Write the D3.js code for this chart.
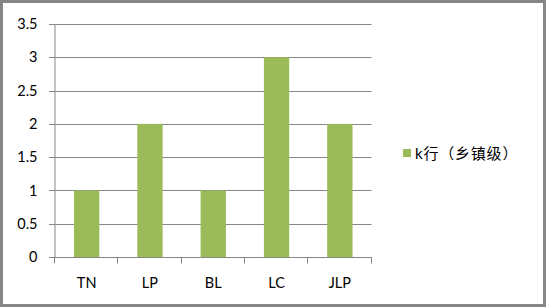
<!DOCTYPE html>
<html>
<head>
<meta charset="utf-8">
<script src="https://cdn.jsdelivr.net/npm/d3@7"></script>
<style>
  html, body { margin: 0; padding: 0; background: #fff; }
  svg { display: block; }
</style>
</head>
<body>
<script>
  // chart data
  let categories = ["TN", "LP", "BL", "LC", "JLP"];
  let values = [1, 2, 1, 3, 2];
  let yTicks = [0, 0.5, 1, 1.5, 2, 2.5, 3, 3.5];
  let seriesName = "k行（乡镇级）";

  let width = 546, height = 307;
  let font = "Lato, 'Noto Sans CJK SC', sans-serif";

  let svg = d3.select("body")
    .append("svg")
    .attr("width", width)
    .attr("height", height);

  // outer frame
  svg.append("rect")
    .attr("x", 1.5)
    .attr("y", 1.5)
    .attr("width", width - 3)
    .attr("height", height - 3)
    .attr("fill", "#fff")
    .attr("stroke", "#868686")
    .attr("stroke-width", 3);

  let xScale = d3.scaleBand()
    .domain(categories)
    .range([55, 371.5])
    .paddingInner(0.6)
    .paddingOuter(0.3);

  let yScale = d3.scaleLinear()
    .domain([0, 3.5])
    .range([257, 24]);

  // gridlines
  svg.append("g")
    .selectAll("line")
    .data(yTicks)
    .enter()
    .append("line")
      .attr("x1", 49)
      .attr("x2", 371.5)
      .attr("y1", (d) => Math.round(yScale(d)) + 0.5)
      .attr("y2", (d) => Math.round(yScale(d)) + 0.5)
      .attr("stroke", "#868686")
      .attr("stroke-width", 1);

  // y axis
  let yAxis = d3.axisLeft(yScale)
    .tickValues(yTicks)
    .tickSize(0)
    .tickPadding(17)
    .tickFormat((d) => d3.format("")(d));
  let yG = svg.append("g")
    .attr("transform", "translate(54.5, 0)")
    .call(yAxis);
  yG.select(".domain").attr("stroke", "#868686");
  yG.selectAll("text")
    .style("font-family", font)
    .style("font-size", "14.5px")
    .attr("fill", "#000");

  // bars
  svg.selectAll(".bar")
    .data(values)
    .enter()
    .append("rect")
      .attr("class", "bar")
      .attr("x", (d, i) => xScale(categories[i]))
      .attr("y", (d) => yScale(d))
      .attr("width", xScale.bandwidth())
      .attr("height", (d) => yScale(0) - yScale(d))
      .attr("fill", "#9bbb59");

  // x axis with category boundaries
  let step = (371.5 - 55) / categories.length;
  let xG = svg.append("g")
    .attr("transform", "translate(0, 257.5)");
  xG.append("line")
    .attr("x1", 55)
    .attr("x2", 371.5)
    .attr("stroke", "#868686");
  xG.selectAll(".tickline")
    .data(d3.range(categories.length + 1))
    .enter()
    .append("line")
      .attr("x1", (d) => Math.round(55 + d * step) - 0.5)
      .attr("x2", (d) => Math.round(55 + d * step) - 0.5)
      .attr("y1", 0)
      .attr("y2", 6)
      .attr("stroke", "#868686");
  xG.selectAll(".label")
    .data(categories)
    .enter()
    .append("text")
      .attr("x", (d) => xScale(d) + xScale.bandwidth() / 2)
      .attr("y", 30)
      .attr("text-anchor", "middle")
      .style("font-family", font)
      .style("font-size", "14.5px")
      .text((d) => d);

  // legend
  svg.append("rect")
    .attr("x", 403)
    .attr("y", 149)
    .attr("width", 8)
    .attr("height", 8)
    .attr("fill", "#9bbb59");
  svg.append("text")
    .attr("x", 415)
    .attr("y", 158.5)
    .style("font-family", font)
    .style("font-size", "15px")
    .style("letter-spacing", "0.8px")
    .text(seriesName);
</script>
</body>
</html>
